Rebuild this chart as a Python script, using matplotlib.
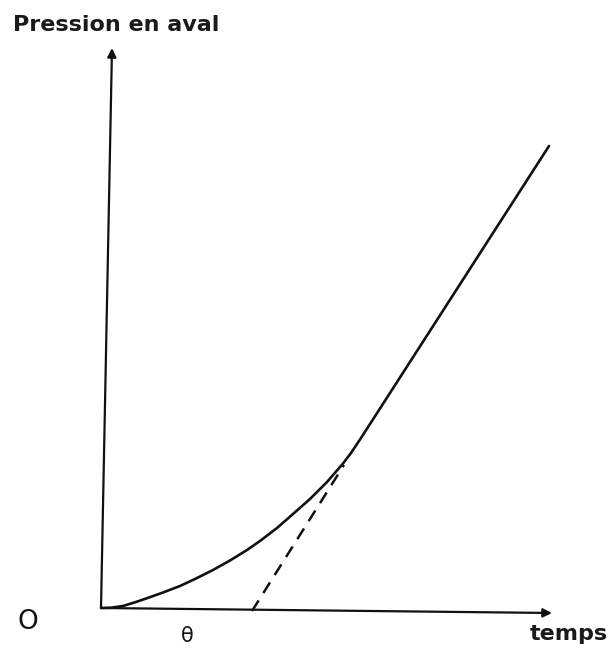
import matplotlib
matplotlib.use("Agg")
import matplotlib.pyplot as plt

t_curve = [0, 10, 22, 35, 48, 62, 79, 95, 112, 129, 146, 159, 176, 192,
           209, 226, 242, 250, 260, 448]
p_curve = [0, 0.3, 2, 6, 10.5, 15.5, 22, 29.5, 38, 47.5, 58, 67, 80, 94,
           109, 126, 144.5, 155, 170, 462]

# asymptote (tiretés) coupant l'axe des temps en theta
t_dash = [151, 243]
p_dash = [-3, 143]

# extrémités des axes (le scan est un peu penché)
x_axis_end = (451, -5)
y_axis_end = (11, 560)

fig = plt.figure(figsize=(6.09, 6.49), dpi=100)
ax = fig.add_axes([0, 0, 1, 1])
ax.set_xlim(-101, 508)
ax.set_ylim(-41, 608)
ax.axis("off")

arrow = dict(arrowstyle="-|>", color="#111111", lw=1.6, mutation_scale=13,
             shrinkA=0, shrinkB=0)
ax.annotate("", xy=x_axis_end, xytext=(0, 0), arrowprops=arrow)
ax.annotate("", xy=y_axis_end, xytext=(0, 0), arrowprops=arrow)

ax.plot(t_curve, p_curve, color="#111111", lw=1.9, solid_joinstyle="round",
        solid_capstyle="round")
ax.plot(t_dash, p_dash, color="#111111", lw=1.8, linestyle=(0, (5, 3.5)))

ax.text(-88, 583, "Pression en aval", fontsize=16, ha="left", va="center",
        family="DejaVu Sans", weight="bold", color="#1a1a1a")
ax.text(-73, -14, "O", fontsize=19, ha="center", va="center",
        family="DejaVu Sans", color="#111111")
ax.text(86, -28, "θ", fontsize=15, ha="center", va="center",
        family="DejaVu Sans", color="#111111")
ax.text(468, -26, "temps", fontsize=16, ha="center", va="center",
        family="DejaVu Sans", weight="bold", color="#1a1a1a")

fig.savefig("out.png", dpi=100)
